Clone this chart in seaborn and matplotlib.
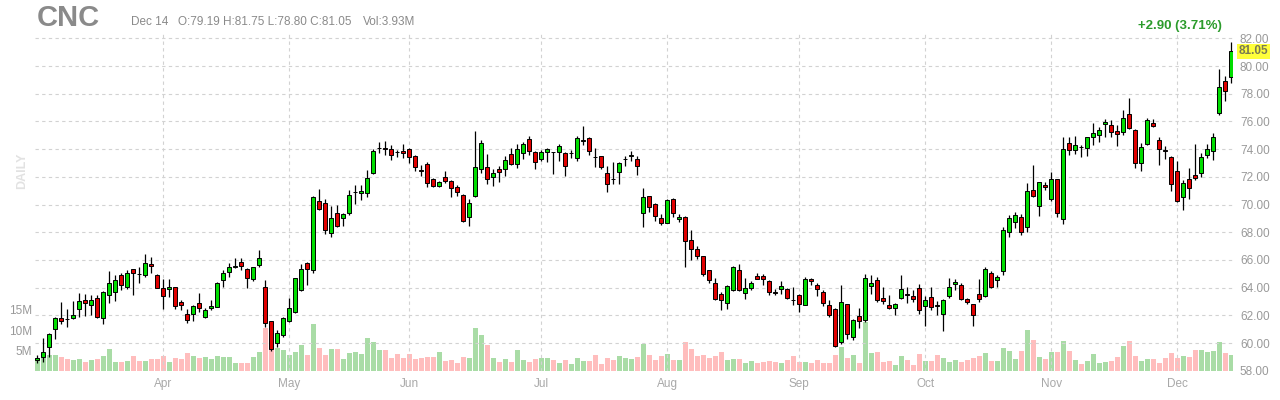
import numpy as np
import pandas as pd
import matplotlib
matplotlib.use("Agg")
import matplotlib.pyplot as plt
import seaborn as sns

# ---------------- data ----------------
ticker = "CNC"
start_date = "2021-03-03"
end_date = "2021-12-14"
market_holidays = ["2021-04-02", "2021-05-31", "2021-07-05", "2021-09-06", "2021-11-25"]

opens = [58.77, 58.96, 59.69, 60.99, 61.78, 61.75, 61.83, 62.43, 63.11, 62.72,
         63.23, 61.78, 63.47, 63.71, 64.89, 64.07, 65.35, 65.00, 64.92, 65.71,
         64.92, 63.95, 63.88, 64.02, 62.96, 62.07, 62.07, 62.87, 61.86, 62.51,
         62.63, 64.55, 65.10, 65.52, 65.83, 65.35, 64.60, 65.64, 64.02, 61.57,
         59.98, 60.55, 61.57, 62.22, 63.83, 65.76, 65.28, 70.27, 70.10, 67.93,
         69.37, 69.01, 69.42, 70.89, 70.82, 70.82, 72.27, 74.05, 74.05, 74.00,
         73.80, 73.86, 74.00, 73.52, 72.47, 72.94, 71.86, 71.35, 71.95, 71.73,
         71.28, 70.70, 69.08, 70.58, 72.55, 72.70, 71.98, 72.55, 72.55, 73.66,
         72.94, 73.71, 74.72, 73.76, 73.28, 73.81, 73.78, 73.76, 73.71, 73.71,
         73.35, 74.60, 74.80, 73.42, 73.47, 72.27, 71.85, 72.34, 73.25, 73.52,
         73.28, 69.42, 70.59, 70.07, 68.99, 68.70, 70.43, 68.92, 69.11, 67.47,
         66.80, 66.27, 65.25, 64.34, 63.57, 62.92, 63.81, 65.30, 63.64, 64.00,
         64.87, 64.87, 64.48, 63.66, 63.93, 63.93, 63.10, 63.47, 62.77, 64.65,
         64.22, 63.69, 62.72, 62.45, 60.08, 62.82, 60.43, 61.95, 61.64, 64.12,
         64.53, 63.28, 62.75, 62.51, 63.23, 63.52, 63.40, 63.95, 62.67, 63.33,
         62.72, 62.12, 63.40, 64.24, 64.19, 63.16, 62.80, 63.52, 63.40, 65.08,
         64.53, 65.20, 67.98, 68.75, 69.11, 68.39, 71.07, 69.90, 71.43, 70.39,
         71.81, 68.92, 74.46, 73.93, 74.17, 74.05, 74.84, 74.99, 75.78, 75.76,
         75.28, 75.23, 76.51, 75.37, 73.01, 74.34, 75.86, 74.65, 73.90, 73.45,
         72.41, 70.51, 71.81, 72.12, 72.29, 73.61, 73.88, 76.58, 78.94, 79.19]

highs = [59.13, 60.34, 60.70, 61.90, 62.99, 62.43, 63.04, 63.59, 63.54, 63.47,
         63.47, 63.76, 65.20, 64.92, 65.04, 65.28, 65.37, 65.52, 66.41, 66.19,
         64.96, 64.60, 64.60, 64.07, 63.13, 62.43, 62.75, 63.59, 62.51, 63.11,
         64.43, 65.28, 65.80, 66.17, 66.17, 65.40, 65.52, 66.72, 64.55, 61.61,
         60.94, 61.90, 63.28, 64.72, 65.71, 65.88, 70.58, 71.11, 70.39, 69.86,
         70.00, 69.37, 71.06, 71.42, 71.42, 72.51, 74.00, 74.48, 74.55, 74.31,
         73.95, 74.36, 74.05, 73.57, 72.87, 73.04, 71.90, 71.71, 72.39, 71.78,
         71.42, 70.75, 70.39, 75.28, 74.67, 73.66, 72.55, 72.75, 73.47, 74.07,
         74.36, 74.48, 74.92, 73.83, 73.95, 74.07, 73.80, 74.36, 73.76, 73.95,
         74.96, 75.64, 74.87, 74.07, 73.52, 72.75, 73.04, 73.04, 73.52, 73.83,
         73.47, 71.17, 70.60, 70.12, 69.35, 70.43, 70.48, 69.35, 69.16, 68.14,
         66.99, 66.31, 65.30, 64.72, 63.69, 64.22, 65.54, 65.73, 64.72, 64.46,
         65.06, 65.01, 64.53, 63.88, 64.48, 64.00, 64.05, 63.57, 64.77, 64.70,
         64.34, 63.81, 63.13, 62.50, 64.20, 62.84, 61.71, 62.55, 65.01, 64.92,
         64.77, 64.05, 63.47, 62.92, 64.92, 64.05, 63.81, 64.29, 63.40, 64.05,
         63.04, 63.16, 64.67, 64.60, 64.36, 63.28, 62.84, 64.60, 65.52, 65.20,
         64.89, 68.39, 69.25, 69.49, 69.30, 71.54, 72.82, 71.66, 71.62, 72.36,
         71.86, 74.84, 74.84, 74.94, 74.29, 74.89, 75.86, 75.57, 76.14, 76.10,
         75.73, 76.82, 77.66, 75.42, 74.41, 76.22, 76.14, 74.84, 74.22, 73.49,
         73.13, 71.76, 72.60, 74.36, 73.73, 74.34, 75.13, 79.76, 79.28, 81.75]

lows = [58.53, 58.65, 58.96, 60.27, 61.37, 61.18, 61.71, 61.86, 61.95, 62.02,
        61.83, 61.37, 62.87, 63.06, 63.83, 63.88, 63.47, 64.36, 64.80, 65.08,
        63.95, 62.43, 63.30, 62.43, 62.39, 61.45, 61.61, 62.27, 61.81, 62.39,
        62.58, 64.07, 64.77, 65.40, 65.28, 63.95, 64.51, 65.52, 61.13, 59.45,
        59.69, 60.46, 61.52, 62.14, 63.78, 64.19, 65.08, 69.57, 67.88, 67.64,
        68.41, 68.46, 69.25, 70.02, 70.29, 70.53, 72.19, 73.71, 73.54, 73.23,
        73.40, 73.35, 72.99, 72.41, 72.07, 71.25, 71.25, 71.25, 71.54, 70.53,
        70.58, 68.75, 68.46, 70.53, 72.27, 71.49, 71.35, 71.66, 72.07, 72.87,
        72.63, 73.28, 73.59, 72.55, 73.11, 73.04, 72.22, 73.11, 72.07, 73.35,
        73.11, 74.31, 73.59, 72.70, 72.55, 70.87, 71.49, 71.49, 72.80, 73.11,
        72.10, 68.35, 69.47, 68.82, 68.55, 68.63, 69.11, 68.75, 65.49, 66.02,
        66.10, 64.82, 64.34, 63.08, 62.41, 62.48, 63.76, 63.76, 63.20, 63.81,
        64.60, 64.17, 63.45, 63.45, 63.57, 63.20, 62.72, 62.24, 62.72, 64.17,
        63.37, 62.67, 61.88, 59.68, 59.92, 60.27, 60.19, 61.06, 61.54, 63.52,
        62.99, 62.84, 62.43, 62.02, 63.16, 62.92, 62.99, 62.12, 61.23, 62.36,
        62.02, 60.87, 63.28, 63.81, 63.08, 62.80, 61.23, 62.96, 63.33, 64.00,
        64.05, 64.92, 67.66, 68.29, 67.81, 68.05, 70.53, 69.20, 71.02, 70.27,
        69.11, 68.58, 73.57, 73.64, 73.45, 73.49, 74.29, 74.53, 74.89, 74.89,
        74.22, 75.01, 75.42, 72.67, 72.43, 74.29, 75.57, 72.84, 73.25, 70.99,
        70.19, 69.59, 70.43, 71.76, 71.95, 73.33, 73.20, 76.46, 77.49, 78.80]

closes = [58.89, 59.37, 60.63, 61.78, 61.57, 61.73, 62.00, 63.04, 62.87, 63.11,
          61.90, 63.71, 64.31, 64.55, 64.17, 65.08, 65.04, 64.97, 65.76, 65.57,
          64.00, 63.40, 64.02, 62.67, 62.72, 61.69, 62.70, 62.55, 62.39, 62.67,
          64.31, 65.04, 65.47, 65.55, 65.59, 64.67, 65.47, 66.12, 61.42, 59.54,
          60.70, 61.83, 62.51, 64.67, 65.37, 65.33, 70.53, 69.66, 68.17, 69.06,
          68.48, 69.30, 70.70, 70.90, 71.01, 71.90, 73.88, 74.07, 74.04, 73.57,
          73.78, 73.71, 73.42, 72.70, 72.45, 71.54, 71.30, 71.66, 71.73, 71.18,
          70.89, 68.84, 70.10, 72.70, 74.43, 71.83, 72.27, 72.34, 73.18, 72.94,
          74.00, 74.36, 73.83, 73.06, 73.78, 74.00, 73.76, 74.24, 72.80, 73.73,
          74.80, 74.63, 73.83, 73.40, 72.70, 71.49, 71.83, 72.99, 73.28, 73.54,
          72.80, 70.57, 69.80, 69.16, 68.70, 70.36, 69.42, 69.11, 67.35, 66.82,
          66.27, 64.96, 64.53, 63.20, 63.13, 64.12, 65.49, 63.86, 64.00, 64.34,
          64.65, 64.65, 63.66, 63.64, 64.10, 63.28, 63.08, 62.84, 64.65, 64.46,
          63.93, 62.92, 62.05, 59.77, 62.94, 60.65, 61.64, 61.59, 64.67, 64.36,
          63.08, 63.04, 62.55, 62.84, 63.88, 63.50, 63.20, 62.36, 63.08, 62.60,
          62.70, 63.08, 64.05, 64.41, 63.16, 62.99, 62.00, 63.20, 65.33, 64.05,
          64.77, 68.14, 69.01, 69.25, 67.98, 70.99, 70.60, 71.64, 71.28, 71.81,
          69.40, 73.98, 73.93, 74.29, 74.15, 74.84, 75.13, 75.37, 75.95, 75.23,
          75.06, 76.22, 75.49, 73.01, 74.17, 76.10, 75.69, 73.98, 73.88, 71.45,
          70.27, 71.52, 71.16, 71.88, 73.45, 73.98, 74.89, 78.51, 78.22, 81.05]

volumes_m = [3.2, 3.6, 4.0, 3.8, 3.3, 2.8, 2.6, 2.8, 2.2, 2.6,
             2.8, 3.6, 5.4, 2.2, 2.2, 2.4, 3.6, 2.4, 2.4, 2.8,
             3.0, 3.6, 2.2, 3.2, 2.8, 4.4, 3.6, 3.2, 3.5, 2.8,
             3.6, 3.5, 3.5, 1.9, 1.8, 2.0, 3.3, 4.7, 10.6, 7.9,
             5.5, 5.1, 3.9, 4.5, 6.4, 3.9, 11.5, 5.6, 3.9, 5.4,
             5.4, 3.0, 4.3, 4.6, 4.1, 8.0, 7.0, 5.1, 5.1, 3.1,
             4.1, 3.1, 4.1, 3.0, 3.1, 3.3, 3.4, 4.6, 2.5, 2.6,
             2.0, 3.3, 3.1, 10.5, 8.7, 6.3, 3.1, 2.2, 2.9, 2.2,
             5.1, 2.6, 2.2, 2.9, 3.1, 3.1, 2.6, 1.9, 2.6, 1.7,
             3.1, 2.4, 2.4, 3.9, 1.7, 3.1, 2.6, 3.6, 3.1, 2.9,
             3.4, 6.6, 3.9, 2.6, 3.6, 4.1, 2.6, 2.6, 7.1, 5.4,
             3.6, 3.9, 3.1, 3.6, 4.6, 2.6, 2.9, 3.0, 2.0, 2.4,
             2.0, 2.1, 2.5, 2.2, 1.8, 2.6, 3.6, 2.1, 2.1, 2.0,
             2.6, 2.0, 2.0, 4.0, 5.9, 3.1, 3.9, 2.0, 12.1, 4.4,
             4.7, 2.2, 2.5, 1.4, 3.6, 2.6, 1.4, 4.1, 2.5, 2.5,
             3.9, 3.1, 2.1, 2.6, 2.1, 2.6, 3.1, 3.6, 4.3, 2.5,
             2.5, 5.5, 4.9, 2.9, 4.9, 10.0, 7.6, 3.3, 2.8, 4.6,
             4.6, 7.3, 4.9, 2.6, 1.6, 2.4, 4.1, 2.0, 2.1, 2.4,
             3.3, 6.1, 7.3, 3.6, 2.4, 2.9, 2.9, 2.0, 3.1, 4.3,
             3.1, 3.6, 3.4, 5.1, 5.1, 4.6, 4.9, 7.1, 4.3, 3.93]

price_ticks = [58, 60, 62, 64, 66, 68, 70, 72, 74, 76, 78, 80, 82]
volume_ticks = [5, 10, 15]
volume_tick_labels = ["5M", "10M", "15M"]
header_date = "Dec 14"
change_text = "+2.90 (3.71%)"

# ---------------- style ----------------
sns.set_theme(style="white")
plt.rcParams["font.family"] = ["Liberation Sans", "DejaVu Sans"]

C_UP = "#00dd00"
C_DN = "#e00000"
V_UP = "#a9dca6"
V_DN = "#ffbdbd"
GRID = "#d2d2d2"
TXT = "#999999"

o = np.array(opens); h = np.array(highs); l = np.array(lows); c = np.array(closes)
v = np.array(volumes_m)
dates = pd.bdate_range(start_date, end_date, freq="C", holidays=market_holidays)
n = len(c)
idx = np.arange(n)
up = c >= o

W, H = 1280, 400
fig = plt.figure(figsize=(12.8, 4.0), dpi=100)
left_px, right_px, top_px, bot_px = 35, 1233, 32, 370.7
axv = fig.add_axes([left_px / W, 1 - bot_px / H, (right_px - left_px) / W, (bot_px - top_px) / H])
axp = axv.twinx()

# volume bars (seaborn)
vdf = pd.DataFrame({"idx": idx, "vol": v, "dir": np.where(up, "up", "down")})
sns.barplot(data=vdf, x="idx", y="vol", hue="dir", palette={"up": V_UP, "down": V_DN},
            native_scale=True, dodge=False, width=0.84, errorbar=None, legend=False,
            saturation=1, linewidth=0, ax=axv)

x0 = (left_px - 37.3) / 6.0
x1 = (right_px - 37.3) / 6.0
axv.set_xlim(x0, x1)
axv.set_ylim(0, (bot_px - top_px) / 4.05)
axv.set_yticks(volume_ticks)
axv.set_yticklabels(volume_tick_labels)
axv.tick_params(axis="y", left=False, length=0, labelleft=True, pad=2, labelsize=8.5, labelcolor=TXT)
axv.set_xlabel(""); axv.set_ylabel("")

# month ticks
month_pos = [i for i in range(1, n) if dates[i].month != dates[i - 1].month]
month_lab = [dates[i].strftime("%b") for i in month_pos]
axv.set_xticks(month_pos)
axv.set_xticklabels(month_lab)
axv.tick_params(axis="x", bottom=False, length=0, pad=5, labelsize=8.5, labelcolor="#a8a8a8")

# price axis
axp.set_xlim(x0, x1)
ylo = 58.0
yhi = 82.0 + (38.3 - top_px) / 13.83
axp.set_ylim(ylo, yhi)
for yv in price_ticks[1:]:
    axp.axhline(yv, color=GRID, lw=0.8, ls=(0, (3, 3)), zorder=0)
for mp in month_pos:
    axp.axvline(mp, color=GRID, lw=0.8, ls=(0, (3, 3)), zorder=0)

axp.vlines(idx, l, h, color="black", lw=0.9, zorder=2)
body_bottom = np.minimum(o, c)
body_h = np.maximum(np.abs(c - o), 0.035)
axp.bar(idx, body_h, bottom=body_bottom, width=0.72,
        color=np.where(up, C_UP, C_DN), edgecolor="black", linewidth=0.7, zorder=3)

axp.set_yticks(price_ticks)
axp.set_yticklabels([f"{t:.2f}" for t in price_ticks])
axp.tick_params(axis="y", right=False, length=0, pad=5, labelsize=8.5, labelcolor=TXT)

for a in (axv, axp):
    for s in a.spines.values():
        s.set_visible(False)
    a.grid(False)

# last price highlight
axp.text(1.0 + 5.5 / (right_px - left_px), c[-1], f"{c[-1]:.2f}", transform=axp.get_yaxis_transform(),
         ha="left", va="center", fontsize=8.5, color="#7a7a52", fontweight="bold",
         bbox=dict(facecolor="#ffff3a", edgecolor="none", pad=1.2), zorder=5)

# header
fig.text(37 / W, 1 - 18 / H, ticker, fontsize=21, fontweight="bold", color="#8a8a8a",
         ha="left", va="center")
hdr_font = ["Liberation Sans Narrow", "Liberation Sans", "DejaVu Sans"]
fig.text(131 / W, 1 - 22 / H, header_date, fontsize=8.5, color="#8a8a8a", ha="left", va="center",
         family=hdr_font)
fig.text(178 / W, 1 - 22 / H,
         f"O:{o[-1]:.2f} H:{h[-1]:.2f} L:{l[-1]:.2f} C:{c[-1]:.2f}",
         fontsize=8.5, color="#8a8a8a", ha="left", va="center", family=hdr_font)
fig.text(363 / W, 1 - 22 / H, f"Vol:{v[-1]:.2f}M", fontsize=8.5, color="#8a8a8a",
         ha="left", va="center", family=hdr_font)
fig.text(1222 / W, 1 - 26 / H, change_text, fontsize=9.5, fontweight="bold", color="#2b9b2b",
         ha="right", va="center")
fig.text(22 / W, 1 - 171 / H, "DAILY", fontsize=9, fontweight="bold", color="#e2e2e2",
         rotation=90, ha="center", va="center")

fig.savefig("out.png", dpi=100, facecolor="white")
